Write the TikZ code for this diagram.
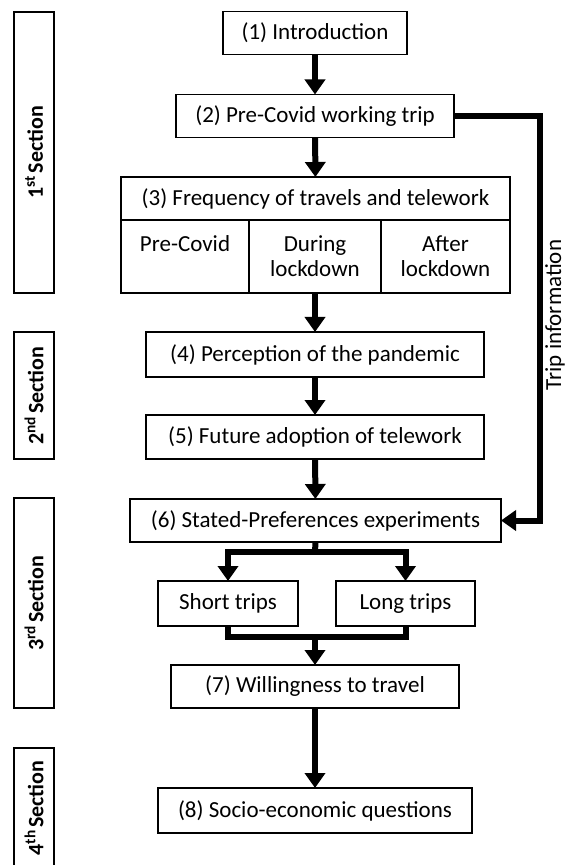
\documentclass[tikz,border=0pt]{standalone}
\usepackage{fontspec}
\setmainfont{Carlito}
\usetikzlibrary{positioning, arrows.meta}
\tikzset{
	every node/.append style={
		font=\fontsize{11.5}{12.5}\selectfont,
		inner sep=1mm,
		outer sep=0mm,
	},
	stepbox/.append style={
		draw,
		line width=0.6pt,
		align=center,
		minimum height=21.5pt,
	},
	cellbox/.append style={
		draw,
		line width=0.6pt,
		align=center,
		minimum height=36.5pt,
	},
	sectbox/.append style={
		draw,
		line width=0.6pt,
		rotate=90,
		minimum height=20pt,
		font={\fontsize{11}{12.5}\selectfont\bfseries},
	},
	flow/.append style={
		line width=3pt,
		-{Triangle[width=10pt, length=7.5pt]},
	},
	joinline/.append style={
		line width=3pt,
	}
}

\begin{document}
\begin{tikzpicture}[x=0.5pt, y=-0.5pt]
\useasboundingbox (0,0) rectangle (565,865);

% sections
\node(sec1)[sectbox, minimum width=140.5pt] at (34,152.5) {1\textsuperscript{st}\hspace{1pt}Section};
\node(sec2)[sectbox, minimum width=63.5pt] at (34,395.5) {2\textsuperscript{nd}\hspace{1pt}Section};
\node(sec3)[sectbox, minimum width=105pt] at (34,603) {3\textsuperscript{rd}\hspace{1pt}Section};
\node(sec4)[sectbox, minimum width=60pt] at (34,808) {4\textsuperscript{th}\hspace{1pt}Section};

% questionnaire blocks
\node(intro)[stepbox, minimum width=92pt] at (315,33) {(1) Introduction};
\node(trip)[stepbox, minimum width=139pt] at (315,116) {(2) Pre-Covid working trip};
\node(freq)[stepbox, minimum width=194.5pt] at (315.5,198.5) {(3) Frequency of travels and telework};
\node(precovid)[cellbox, minimum width=64pt, below right = 0mm and 0mm of freq.south west] {Pre-Covid\\\mbox{}};
\node(during)[cellbox, minimum width=66pt, below right = 0mm and 0mm of precovid.north east] {During\\lockdown};
\node(after)[cellbox, minimum width=64.5pt, below right = 0mm and 0mm of during.north east] {After\\lockdown};
\node(perc)[stepbox, minimum width=169pt, minimum height=22.5pt] at (315,354.5) {(4) Perception of the pandemic};
\node(future)[stepbox, minimum width=169pt, minimum height=22pt] at (315,437) {(5) Future adoption of telework};
\node(sp)[stepbox, minimum width=185.5pt] at (315.5,520.5) {(6) Stated-Preferences experiments};
\node(short)[stepbox, minimum width=70pt, minimum height=22.5pt] at (228,603.5) {Short trips};
\node(long)[stepbox, minimum width=69.5pt, minimum height=22.5pt] at (405.5,603.5) {Long trips};
\node(will)[stepbox, minimum width=144pt] at (315,686.5) {(7) Willingness to travel};
\node(socio)[stepbox, minimum width=157pt, minimum height=22.5pt] at (315,810.5) {(8) Socio-economic questions};

\coordinate(tripbend) at (540,116);
\coordinate(split) at (315,552);
\coordinate(merge) at (315,637);

\draw[flow] (intro) to (trip);
\draw[flow] (trip) to (freq);
\draw[flow] (during) to (perc);
\draw[flow] (perc) to (future);
\draw[flow] (future) to (sp);

\draw[flow] (trip.east) -- (tripbend) |- (sp.east);
\node(tripinfo)[rotate=90, inner sep=0.5mm] at (555,315) {Trip information};

\draw[joinline] (sp.south) -- (split);
\draw[flow] (split) -| (short.north);
\draw[flow] (split) -| (long.north);
\draw[joinline] (short.south) |- (merge);
\draw[joinline] (long.south) |- (merge);
\draw[flow] (merge) -- (will.north);

\draw[flow] (will) to (socio);

\end{tikzpicture}
\end{document}
